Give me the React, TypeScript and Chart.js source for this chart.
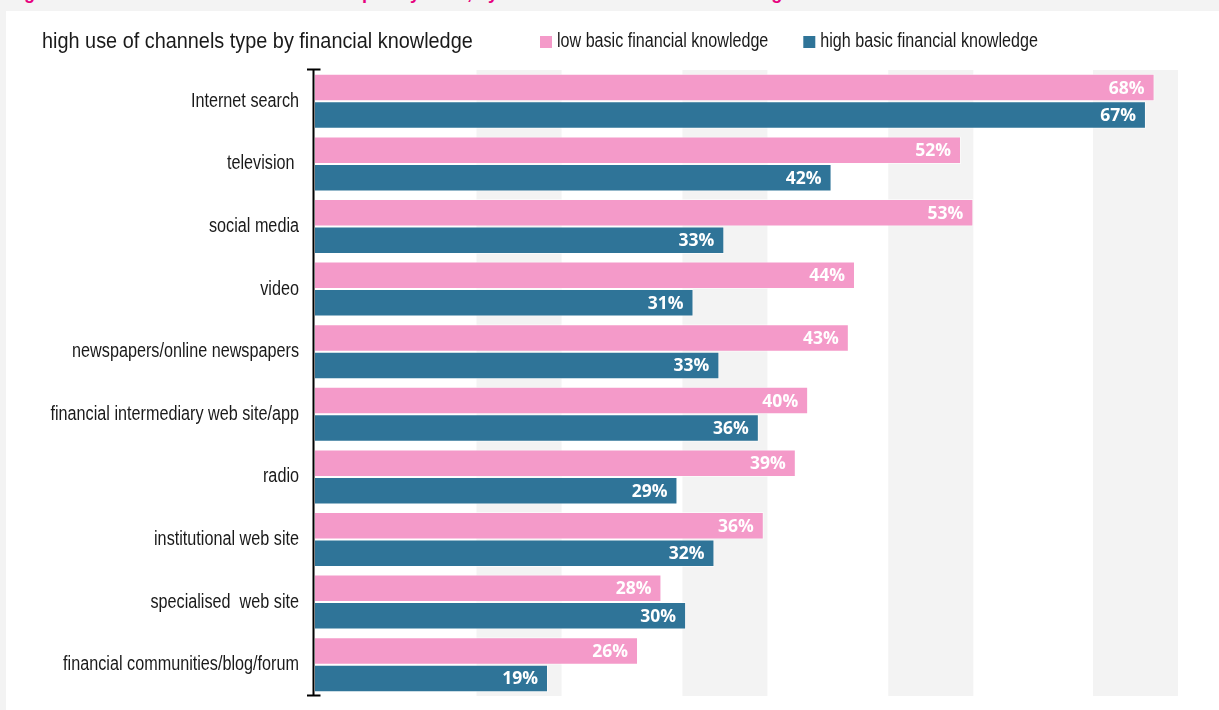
import React, { useEffect, useRef } from "react";
import { Chart, registerables } from "chart.js";

Chart.register(...registerables);

// ---- data ----
const CATEGORIES = [
  "Internet search",
  "television ",
  "social media",
  "video",
  "newspapers/online newspapers",
  "financial intermediary web site/app",
  "radio",
  "institutional web site",
  "specialised  web site",
  "financial communities/blog/forum",
];
const LOW_KNOWLEDGE = [68.1, 52.4, 53.4, 43.8, 43.3, 40.0, 39.0, 36.4, 28.1, 26.2];
const HIGH_KNOWLEDGE = [67.4, 41.9, 33.2, 30.7, 32.8, 36.0, 29.4, 32.4, 30.1, 18.9];
const SERIES_NAMES = ["low basic financial knowledge", "high basic financial knowledge"];
const SUBTITLE = "high use of channels type by financial knowledge";
const HEADER = "Figure 5 \u2013 Information channels most frequently used, by level of basic financial knowledge";
const X_MAX = 70;
const BAND_RANGES: [number, number][] = [
  [13.1, 20],
  [29.8, 36.7],
  [46.5, 53.4],
  [63.1, 70],
];

// ---- styles ----
const PINK = "#F49AC9";
const BLUE = "#2F7498";
const TEXT = "#1a1a1a";
const SANS = "'Liberation Sans', Arial, sans-serif";
const LABEL_FONT = "'Open Sans', 'Noto Sans', sans-serif";

function drawNarrow(
  ctx: CanvasRenderingContext2D,
  text: string,
  x: number,
  y: number,
  size: number,
  sx: number,
  align: CanvasTextAlign
) {
  ctx.save();
  ctx.font = `${size}px ${SANS}`;
  ctx.textAlign = align;
  ctx.textBaseline = "middle";
  ctx.translate(x, y);
  ctx.scale(sx, 1);
  ctx.fillText(text, 0, 0);
  ctx.restore();
}

function narrowWidth(ctx: CanvasRenderingContext2D, text: string, size: number, sx: number) {
  ctx.save();
  ctx.font = `${size}px ${SANS}`;
  const w = ctx.measureText(text).width * sx;
  ctx.restore();
  return w;
}

const decorPlugin = {
  id: "decor",
  beforeDatasetsDraw(chart: any) {
    const { ctx, chartArea, scales } = chart;
    const x = scales.x;
    ctx.save();
    ctx.fillStyle = "#f3f3f3";
    for (const [a, b] of BAND_RANGES) {
      const x0 = x.getPixelForValue(a);
      const x1 = x.getPixelForValue(b);
      ctx.fillRect(x0, chartArea.top, x1 - x0, chartArea.bottom - chartArea.top);
    }
    ctx.restore();
  },
  afterDatasetsDraw(chart: any) {
    const { ctx, chartArea, scales } = chart;
    ctx.save();
    // value labels
    ctx.font = `bold 17.5px ${LABEL_FONT}`;
    ctx.fillStyle = "#ffffff";
    ctx.textAlign = "right";
    ctx.textBaseline = "middle";
    chart.data.datasets.forEach((ds: any, i: number) => {
      const meta = chart.getDatasetMeta(i);
      meta.data.forEach((bar: any, j: number) => {
        const v = ds.data[j];
        ctx.fillText(`${Math.round(v)}%`, bar.x - 10, bar.y + 1);
      });
    });

    // category labels (condensed look)
    ctx.fillStyle = TEXT;
    const yScale = scales.y;
    chart.data.labels.forEach((lab: string, i: number) => {
      const py = yScale.getPixelForTick(i);
      drawNarrow(ctx, lab, chartArea.left - 16, py, 20, 0.81, "right");
    });

    // axis line with end caps
    ctx.strokeStyle = "#000";
    ctx.lineWidth = 2;
    const ax = chartArea.left - 1.5;
    ctx.beginPath();
    ctx.moveTo(ax, chartArea.top - 1);
    ctx.lineTo(ax, chartArea.bottom);
    ctx.moveTo(ax - 6.5, chartArea.top - 0.5);
    ctx.lineTo(ax + 7, chartArea.top - 0.5);
    ctx.moveTo(ax - 6.5, chartArea.bottom - 0.5);
    ctx.lineTo(ax + 7, chartArea.bottom - 0.5);
    ctx.stroke();

    // subtitle
    ctx.fillStyle = TEXT;
    drawNarrow(ctx, SUBTITLE, 36, 31, 22.5, 0.883, "left");

    // legend
    const colors = [PINK, BLUE];
    let lx = 534;
    SERIES_NAMES.forEach((name, i) => {
      ctx.fillStyle = colors[i];
      ctx.fillRect(lx, 25, 12, 12);
      ctx.fillStyle = TEXT;
      drawNarrow(ctx, name, lx + 17, 31, 19.5, 0.826, "left");
      lx += 17 + narrowWidth(ctx, name, 19.5, 0.826) + 35;
    });
    ctx.restore();
  },
};

export default function App() {
  const ref = useRef<HTMLCanvasElement>(null);
  useEffect(() => {
    document.body.style.margin = "0";
    const canvas = ref.current;
    if (!canvas) return;
    const chart = new Chart(canvas, {
      type: "bar",
      data: {
        labels: CATEGORIES,
        datasets: [
          {
            label: SERIES_NAMES[0],
            data: LOW_KNOWLEDGE,
            backgroundColor: PINK,
            borderColor: "rgba(255,255,255,0.55)",
            borderWidth: 1,
          },
          {
            label: SERIES_NAMES[1],
            data: HIGH_KNOWLEDGE,
            backgroundColor: BLUE,
            borderColor: "rgba(255,255,255,0.55)",
            borderWidth: 1,
          },
        ],
      },
      options: {
        indexAxis: "y",
        responsive: false,
        animation: false,
        devicePixelRatio: 1,
        layout: { padding: { top: 59, right: 41, bottom: 14, left: 0 } },
        datasets: {
          bar: { barPercentage: 1, categoryPercentage: 0.879 },
        },
        plugins: {
          legend: { display: false },
          title: { display: false },
          tooltip: { enabled: false },
        },
        scales: {
          x: { display: false, min: 0, max: X_MAX },
          y: {
            grid: { display: false, drawTicks: false },
            border: { display: false },
            ticks: { display: false },
            afterFit(scale: any) {
              scale.width = 309;
            },
          },
        },
      },
      plugins: [decorPlugin],
    } as any);
    return () => chart.destroy();
  }, []);

  return (
    <div
      style={{
        position: "relative",
        width: 1219,
        height: 710,
        background: "#f3f3f3",
        overflow: "hidden",
      }}
    >
      <div
        style={{
          position: "absolute",
          left: 8,
          top: -16,
          fontFamily: SANS,
          fontWeight: "bold",
          fontSize: 18,
          lineHeight: "18px",
          color: "#e6007e",
          whiteSpace: "nowrap",
        }}
      >
        {HEADER}
      </div>
      <div
        style={{
          position: "absolute",
          left: 6,
          top: 11,
          width: 1213,
          height: 699,
          background: "#ffffff",
        }}
      >
        <canvas ref={ref} width={1213} height={699} style={{ display: "block" }} />
      </div>
    </div>
  );
}
